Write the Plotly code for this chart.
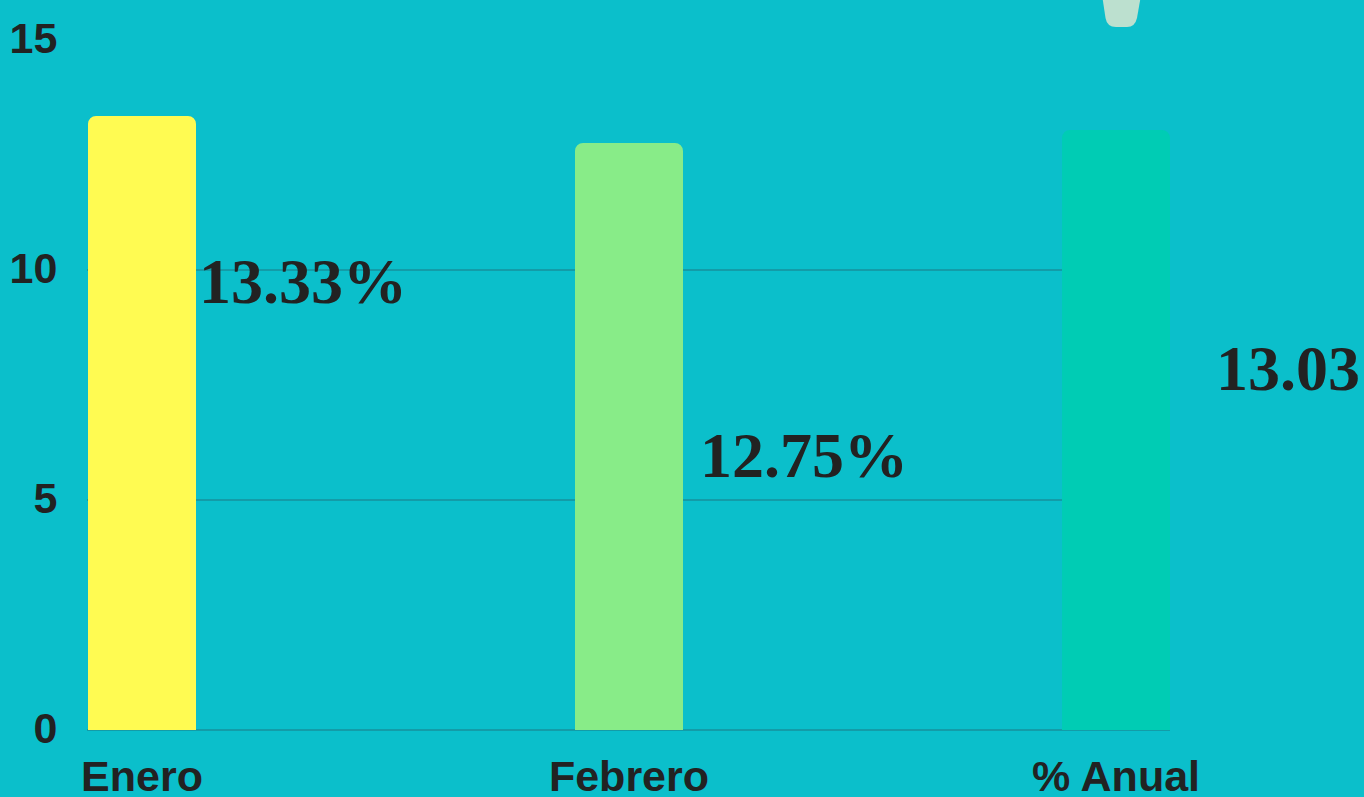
import plotly.graph_objects as go

categories = ["Enero", "Febrero", "% Anual"]
values = [13.33, 12.75, 13.03]
bar_colors = ["#FFFB52", "#88EC88", "#00CCB4"]
value_labels = ["13.33%", "12.75%", "13.03%"]
label_x = [0.113, 1.141, 2.201]
label_y = [9.76, 5.96, 7.85]
y_ticks = [0, 5, 10, 15]

W, H = 1364, 797
L, R, T, B = 87, 1170, 40, 730
X_MIN, X_MAX = -0.1129, 2.1109
BG = "#0BBFCB"
GRID = "#139CA8"
INK = "#222222"

fig = go.Figure()
fig.add_trace(go.Bar(
    x=list(range(len(categories))), y=values, width=0.2177,
    marker=dict(color=bar_colors, cornerradius=7, line=dict(width=2, color=bar_colors)),
    hoverinfo="skip", showlegend=False,
))
for x, y, t in zip(label_x, label_y, value_labels):
    fig.add_annotation(x=(x - X_MIN) / (X_MAX - X_MIN), y=y / 15, xref="paper", yref="paper", text=t,
                       showarrow=False, xanchor="left", yanchor="middle", align="left",
                       font=dict(family="Liberation Serif", size=64, color=INK, weight="bold"))

def px(x):
    return (x - L) / (R - L)
def py(y):
    return (B - y) / (B - T)

fig.add_shape(type="path", xref="paper", yref="paper", layer="above", line=dict(width=0),
              fillcolor="#BCE0CF",
              path=(f"M {px(1102.5)} {py(-2)} L {px(1140.5)} {py(-2)} L {px(1137)} {py(18)} "
                    f"Q {px(1135)} {py(27)} {px(1127)} {py(27)} L {px(1116)} {py(27)} "
                    f"Q {px(1107)} {py(27)} {px(1105.5)} {py(18)} Z"))

fig.update_layout(
    width=W, height=H, autosize=False, bargap=0,
    margin=dict(l=L, r=W - R, t=T, b=H - B, pad=0),
    paper_bgcolor=BG, plot_bgcolor=BG,
    xaxis=dict(range=[X_MIN, X_MAX], automargin=False, tickmode="array",
               tickvals=list(range(len(categories))),
               ticktext=categories, showgrid=False, zeroline=False, showline=False,
               ticks="outside", ticklen=8, tickcolor="rgba(0,0,0,0)",
               tickfont=dict(family="Liberation Sans", size=43, color=INK, weight="bold")),
    yaxis=dict(range=[0, 15], automargin=False, tickmode="array", tickvals=y_ticks, showgrid=True,
               gridcolor=GRID, gridwidth=2, zeroline=True, zerolinecolor=GRID, zerolinewidth=2,
               showline=False, ticks="outside", ticklen=20, tickcolor="rgba(0,0,0,0)",
               ticklabelshift=-2,
               tickfont=dict(family="Liberation Sans", size=43, color=INK, weight="bold")),
)
fig.write_html("out.html", config={"displayModeBar": False},
               post_script="document.body.style.margin='0';document.body.style.overflow='hidden';document.documentElement.style.overflow='hidden';")
